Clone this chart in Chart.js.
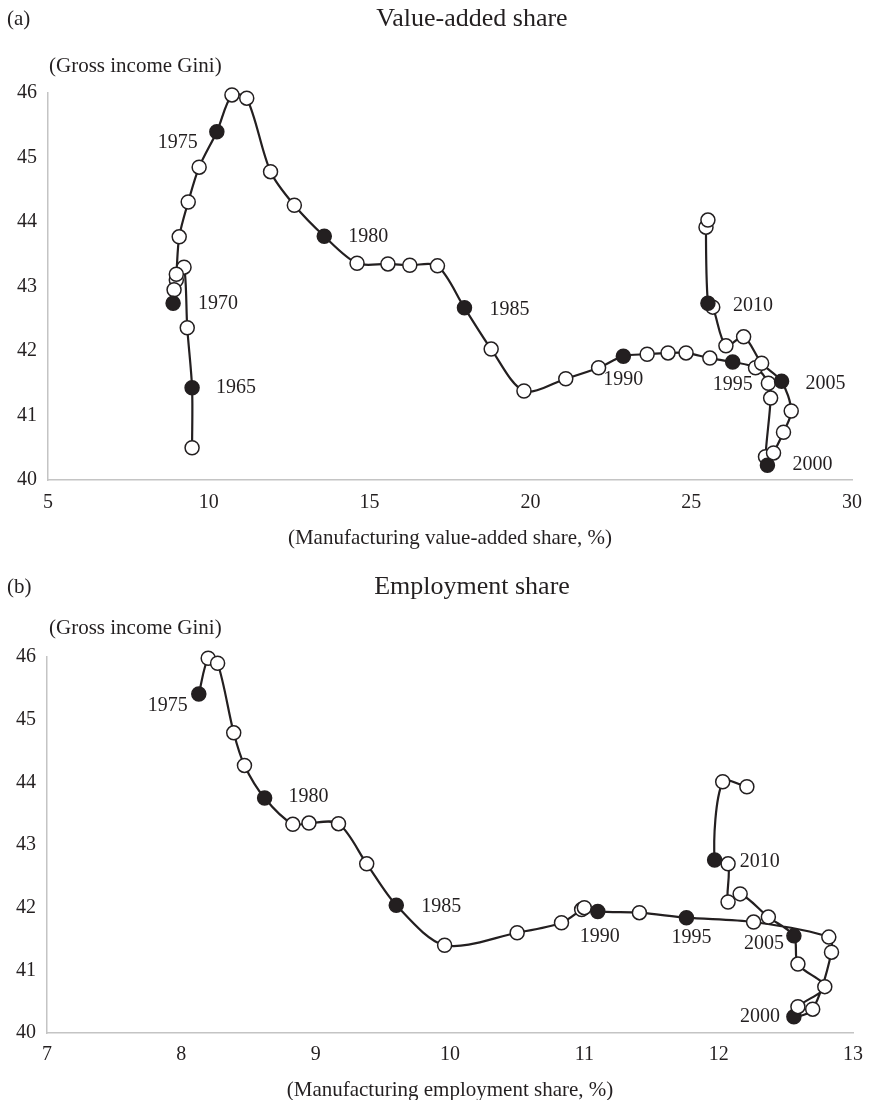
<!DOCTYPE html>
<html>
<head>
<meta charset="utf-8">
<script src="https://cdn.jsdelivr.net/npm/chart.js@4.4.1/dist/chart.umd.min.js"></script>
<style>
  html, body { margin: 0; padding: 0; background: #ffffff; }
  #wrap { position: relative; width: 873px; height: 1100px; }
  .panel { position: absolute; left: 0; width: 873px; height: 550px; }
  #pa { top: 0; }
  #pb { top: 550px; }
</style>
</head>
<body>
<div id="wrap">
  <div class="panel" id="pa"><canvas id="ca" width="873" height="550"></canvas></div>
  <div class="panel" id="pb"><canvas id="cb" width="873" height="550"></canvas></div>
</div>
<script>
// ---------------- DATA ----------------
// Panel (a): manufacturing value-added share (%) vs gross income Gini
const vaShare = [9.48, 9.48, 9.33, 9.23, 8.99, 8.92, 8.89, 8.99, 9.08, 9.36, 9.70, 10.25,
  10.72, 11.18, 11.92, 12.66, 13.59, 14.61, 15.57, 16.25, 17.11, 17.95,
  18.78, 19.80, 21.10, 22.12, 22.89, 23.63, 24.28, 24.84, 25.58, 26.29,
  27.00, 27.40, 27.47, 27.31, 27.37, 27.56, 27.87, 28.11,
  27.81, 27.19, 26.63, 26.08, 25.67, 25.52, 25.46, 25.52];
const vaGini = [40.50, 41.43, 42.36, 43.30, 43.10, 42.95, 42.74, 43.19, 43.77, 44.31, 44.85, 45.40,
  45.97, 45.92, 44.78, 44.26, 43.78, 43.36, 43.35, 43.33, 43.32, 42.67,
  42.03, 41.38, 41.57, 41.74, 41.92, 41.95, 41.97, 41.97, 41.89, 41.83,
  41.74, 41.50, 41.27, 40.36, 40.23, 40.42, 40.74, 41.07,
  41.53, 41.81, 42.22, 42.08, 42.68, 42.74, 43.92, 44.03];
const vaLabels = ["", "1965", "", "", "", "", "1970", "", "", "", "", "1975",
  "", "", "", "", "1980", "", "", "", "", "1985",
  "", "", "", "", "1990", "", "", "", "", "1995",
  "", "", "", "", "2000", "", "", "",
  "2005", "", "", "", "", "2010", "", ""];

// Panel (b): manufacturing employment share (%) vs gross income Gini
const empShare = [8.13, 8.20, 8.27, 8.39, 8.47, 8.62, 8.83, 8.95, 9.17, 9.38,
  9.60, 9.96, 10.50, 10.83, 10.98, 11.00, 11.10, 11.41, 11.76,
  12.26, 12.82, 12.84, 12.70, 12.56, 12.59, 12.79, 12.59, 12.56,
  12.37, 12.16, 12.07, 12.07, 11.97, 12.03, 12.21];
const empGini = [45.41, 45.98, 45.90, 44.79, 44.27, 43.75, 43.33, 43.35, 43.34, 42.70,
  42.04, 41.40, 41.60, 41.76, 41.97, 42.00, 41.94, 41.92, 41.84,
  41.77, 41.53, 41.29, 40.38, 40.26, 40.42, 40.74, 41.10, 41.55,
  41.85, 42.22, 42.09, 42.70, 42.76, 44.01, 43.93];
const empLabels = ["1975", "", "", "", "", "1980", "", "", "", "",
  "1985", "", "", "", "", "", "1990", "", "1995",
  "", "", "", "", "2000", "", "", "", "2005",
  "", "", "", "", "2010", "", ""];

const vaTicksX = [5, 10, 15, 20, 25, 30];
const empTicksX = [7, 8, 9, 10, 11, 12, 13];
const giniTicks = [40, 41, 42, 43, 44, 45, 46];

// ---------------- STYLE ----------------
const INK = '#231f20';
const AXIS = '#c4c4c4';
const FONT = '"Liberation Serif", "DejaVu Serif", serif';

// label placement (style): [mode, dx, dy]
const placeA = {
  "1965": ['right', 24, 0], "1970": ['right', 25, 0], "1975": ['left', -19, 11],
  "1980": ['right', 24, 1], "1985": ['right', 25, 2], "1990": ['below', 0, 24],
  "1995": ['below', 0, 23], "2000": ['right', 25, 0], "2005": ['right', 24, 2],
  "2010": ['right', 25, 2]
};
const placeB = {
  "1975": ['left', -11, 12], "1980": ['right', 24, -1], "1985": ['right', 25, 2],
  "1990": ['below', 2, 25], "1995": ['below', 5, 20], "2000": ['left', -14, 0],
  "2005": ['left', -10, 8], "2010": ['right', 25, 2]
};

const textPlugin = {
  id: 'texts',
  afterDraw(chart, args, o) {
    const ctx = chart.ctx;
    const area = chart.chartArea;
    ctx.save();
    ctx.fillStyle = INK;
    ctx.textBaseline = 'middle';
    ctx.font = '21px ' + FONT;
    ctx.textAlign = 'left';
    ctx.fillText(o.letter, 7, o.headY);
    ctx.font = '26px ' + FONT;
    ctx.textAlign = 'center';
    ctx.fillText(o.title, o.titleX, o.headY);
    ctx.font = '21px ' + FONT;
    ctx.textAlign = 'left';
    ctx.fillText(o.yTitle, 49, o.yTitleY);
    ctx.textAlign = 'center';
    ctx.fillText(o.xTitle, (area.left + area.right) / 2, o.xTitleY);
    ctx.font = '20px ' + FONT;
    const meta = chart.getDatasetMeta(0);
    o.labels.forEach((lab, i) => {
      if (!lab) return;
      const el = meta.data[i];
      const p = o.place[lab];
      if (!p) return;
      const [mode, dx, dy] = p;
      ctx.textAlign = mode === 'right' ? 'left' : (mode === 'left' ? 'right' : 'center');
      ctx.fillText(lab, el.x + dx, el.y + dy);
    });
    ctx.restore();
  }
};

function makeChart(canvasId, xs, ys, labels, xTicks, cfg) {
  const pts = xs.map((x, i) => ({ x: x, y: ys[i] }));
  const filled = labels.map(l => l ? INK : '#ffffff');
  return new Chart(document.getElementById(canvasId), {
    type: 'scatter',
    data: {
      datasets: [{
        data: pts,
        showLine: true,
        clip: false,
        borderColor: INK,
        borderWidth: 2.2,
        tension: 0.3,
        pointRadius: 7,
        pointBorderWidth: 1.5,
        pointBorderColor: INK,
        pointBackgroundColor: filled
      }]
    },
    options: {
      responsive: false,
      animation: false,
      devicePixelRatio: 1,
      layout: { padding: { top: cfg.padTop, right: 16, bottom: 0, left: 0 } },
      plugins: {
        legend: { display: false },
        tooltip: { enabled: false },
        texts: cfg.texts
      },
      scales: {
        x: {
          type: 'linear',
          min: xTicks[0], max: xTicks[xTicks.length - 1],
          afterBuildTicks: (s) => { s.ticks = xTicks.map(v => ({ value: v })); },
          afterFit: (s) => { s.height = cfg.xHeight; },
          grid: { display: false, drawTicks: false },
          border: { display: true, color: AXIS, width: 1.5 },
          ticks: { color: INK, font: { family: FONT, size: 20 }, padding: cfg.xPad, maxRotation: 0 }
        },
        y: {
          type: 'linear',
          min: giniTicks[0], max: giniTicks[giniTicks.length - 1],
          afterBuildTicks: (s) => { s.ticks = giniTicks.map(v => ({ value: v })); },
          afterFit: (s) => { s.width = cfg.yWidth; },
          grid: { display: false, drawTicks: false },
          border: { display: true, color: AXIS, width: 1.5 },
          ticks: { color: INK, font: { family: FONT, size: 20 }, padding: 11 }
        }
      }
    },
    plugins: [textPlugin]
  });
}

makeChart('ca', vaShare, vaGini, vaLabels, vaTicksX, {
  padTop: 93, xHeight: 70, yWidth: 48, xPad: 11,
  texts: {
    letter: '(a)', title: 'Value-added share', titleX: 472, headY: 19,
    yTitle: '(Gross income Gini)', yTitleY: 66,
    xTitle: '(Manufacturing value-added share, %)', xTitleY: 538,
    labels: vaLabels, place: placeA
  }
});

makeChart('cb', empShare, empGini, empLabels, empTicksX, {
  padTop: 107, xHeight: 67, yWidth: 47, xPad: 10,
  texts: {
    letter: '(b)', title: 'Employment share', titleX: 472, headY: 37,
    yTitle: '(Gross income Gini)', yTitleY: 78,
    xTitle: '(Manufacturing employment share, %)', xTitleY: 540,
    labels: empLabels, place: placeB
  }
});
</script>
</body>
</html>
